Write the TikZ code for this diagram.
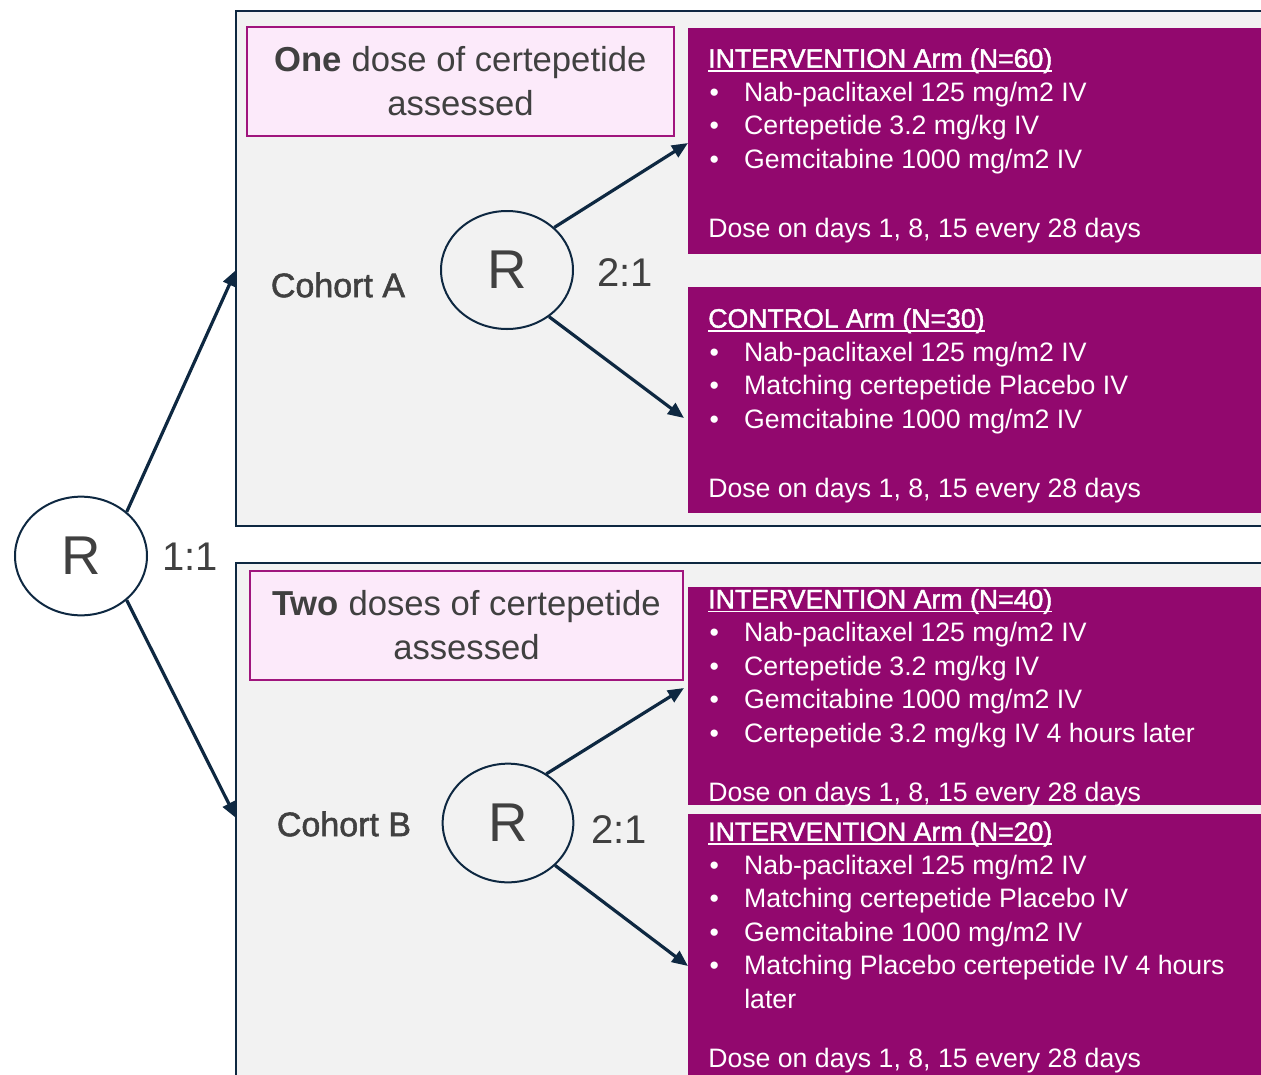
\documentclass[tikz,border=0pt]{standalone}
\usepackage{fontspec}
\setmainfont{Liberation Sans}
\newfontfamily\semib[FakeBold=1.6]{Liberation Sans}
\usetikzlibrary{arrows.meta,shapes.geometric,fit}
\definecolor{navy}{HTML}{0E2841}
\definecolor{plum}{RGB}{146,8,110}
\definecolor{pinkfill}{HTML}{FCEAFA}
\definecolor{pinkline}{HTML}{A0157D}
\definecolor{panelgray}{HTML}{F2F2F2}
\definecolor{txtgray}{HTML}{404040}
\newcommand{\bul}{\makebox[27pt][l]{\hspace{1pt}•}}
\newcommand{\myul}[1]{\setbox0\hbox{\semib #1}\rlap{\rule[-3pt]{\wd0}{1.1pt}}\box0}
\begin{document}
\begin{tikzpicture}[x=0.75pt,y=-0.75pt,
  panel/.style={draw=navy,line width=1.5pt,fill=panelgray,inner sep=0pt},
  armbox/.style={fill=plum,inner sep=0pt},
  armtext/.style={text=white,align=left,inner sep=0pt,anchor=base west,font=\fontsize{20}{25.1}\selectfont},
  hdr/.style={draw=pinkline,line width=1.1pt,fill=pinkfill,align=center,text=txtgray,inner sep=0pt,font=\fontsize{26}{33}\selectfont},
  rcirc/.style={ellipse,draw=navy,line width=1.5pt,inner sep=0pt,text=txtgray,font=\fontsize{41}{41}\selectfont},
  lbl/.style={text=txtgray,inner sep=0pt},
  arr/.style={draw=navy,line width=2.4pt,-{Triangle[length=12pt,width=10pt]}}]
\useasboundingbox (0,0) rectangle (1261,1075);
\clip (0,0) rectangle (1261,1075);
\fill[white] (0,0) rectangle (1261,1075);

% panels
\node[panel,fit={(236,11) (1280,526)}] (pA) {};
\node[panel,fit={(236,563) (1280,1090)}] (pB) {};

% header boxes
\node[hdr,minimum width=320pt,minimum height=82pt] (hA) at (460.5,81.5) {\textbf{One} dose of certepetide\\assessed};
\node[hdr,minimum width=325pt,minimum height=82pt] (hB) at (466.5,625.5) {\textbf{Two} doses of certepetide\\assessed};

% arm boxes
\node[armbox,fit={(688,28) (1280,254)}] (b1) {};
\node[armbox,fit={(688,287) (1280,513)}] (b2) {};
\node[armbox,fit={(688,587) (1280,805)}] (b3) {};
\node[armbox,fit={(688,814) (1280,1090)}] (b4) {};

% text blocks (anchored at the baseline of their last line)
\node[armtext] (t1) at (708,237) {\myul{INTERVENTION Arm (N=60)}\\
\bul Nab-paclitaxel 125 mg/m2 IV\\
\bul Certepetide 3.2 mg/kg IV\\
\bul Gemcitabine 1000 mg/m2 IV\\[26.6pt]
Dose on days 1, 8, 15 every 28 days};

\node[armtext] (t2) at (708,497) {\myul{CONTROL Arm (N=30)}\\
\bul Nab-paclitaxel 125 mg/m2 IV\\
\bul Matching certepetide Placebo IV\\
\bul Gemcitabine 1000 mg/m2 IV\\[26.6pt]
Dose on days 1, 8, 15 every 28 days};

\node[armtext] (t3) at (708,801) {\myul{INTERVENTION Arm (N=40)}\\
\bul Nab-paclitaxel 125 mg/m2 IV\\
\bul Certepetide 3.2 mg/kg IV\\
\bul Gemcitabine 1000 mg/m2 IV\\
\bul Certepetide 3.2 mg/kg IV 4 hours later\\[19pt]
Dose on days 1, 8, 15 every 28 days};

\node[armtext] (t4) at (708,1067) {\myul{INTERVENTION Arm (N=20)}\\
\bul Nab-paclitaxel 125 mg/m2 IV\\
\bul Matching certepetide Placebo IV\\
\bul Gemcitabine 1000 mg/m2 IV\\
\bul Matching Placebo certepetide IV 4 hours\\
\hspace*{27pt}later\\[19pt]
Dose on days 1, 8, 15 every 28 days};

% randomisation circles
\node[rcirc,minimum width=99pt,minimum height=89pt] (R0) at (81,556) {R};
\node[rcirc,minimum width=99pt,minimum height=88.5pt] (RA) at (507,270) {R};
\node[rcirc,minimum width=98pt,minimum height=89pt] (RB) at (508,823) {R};

% labels
\node[lbl,font=\fontsize{30}{30}\selectfont] (r0) at (190,557) {1:1};
\node[lbl,font=\fontsize{30}{30}\selectfont] (rA) at (625,273) {2:1};
\node[lbl,font=\fontsize{30}{30}\selectfont] (rB) at (619,830) {2:1};
\node[lbl,font=\fontsize{25.5}{25.5}\selectfont\semib] (cA) at (338,285) {Cohort A};
\node[lbl,font=\fontsize{25.5}{25.5}\selectfont\semib] (cB) at (344,824) {Cohort B};

% arrow targets
\coordinate (eA) at (236,270);
\coordinate (eB) at (236,818);
\coordinate (e1) at (688,143);
\coordinate (e2) at (684,418);
\coordinate (e3) at (684,688);
\coordinate (e4) at (688,966);

\draw[arr] (R0.44) -- (eA);
\draw[arr] (R0.-44) -- (eB);
\draw[arr] (RA.42) -- (e1);
\draw[arr] (RA.-48) -- (e2);
\draw[arr] (RB.52) -- (e3);
\draw[arr] (RB.-42) -- (e4);
\end{tikzpicture}
\end{document}
